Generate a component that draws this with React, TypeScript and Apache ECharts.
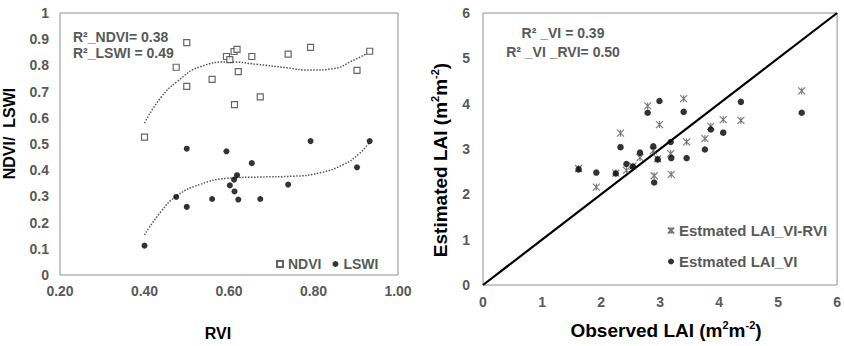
import React, { useEffect, useRef } from "react";
import * as echarts from "echarts";

// ---------- Left panel data (RVI vs NDVI / LSWI) ----------
const rvi = [0.40, 0.475, 0.50, 0.50, 0.56, 0.594, 0.602, 0.612, 0.619, 0.613, 0.622, 0.654, 0.674, 0.740, 0.793, 0.903, 0.933];
const ndvi = [0.526, 0.793, 0.887, 0.720, 0.747, 0.834, 0.822, 0.853, 0.861, 0.650, 0.776, 0.834, 0.680, 0.843, 0.869, 0.781, 0.854];
const lswi = [0.112, 0.298, 0.482, 0.260, 0.290, 0.472, 0.342, 0.364, 0.381, 0.319, 0.288, 0.427, 0.290, 0.345, 0.511, 0.411, 0.511];

// trend curves
const ndviTrendX = [0.40, 0.438, 0.477, 0.532, 0.603, 0.666, 0.737, 0.792, 0.847, 0.894, 0.933];
const ndviTrendY = [0.580, 0.676, 0.738, 0.795, 0.813, 0.804, 0.791, 0.782, 0.788, 0.819, 0.851];
const lswiTrendX = [0.40, 0.438, 0.477, 0.532, 0.595, 0.673, 0.752, 0.815, 0.870, 0.909, 0.933];
const lswiTrendY = [0.153, 0.240, 0.303, 0.346, 0.369, 0.374, 0.377, 0.390, 0.421, 0.464, 0.508];

const leftXTicks = { min: 0.2, max: 1.0, interval: 0.2 };
const leftYTicks = { min: 0, max: 1, interval: 0.1 };

// ---------- Right panel data (Observed vs Estimated LAI) ----------
const observedLAI = [1.62, 1.92, 2.25, 2.33, 2.43, 2.54, 2.66, 2.79, 2.885, 2.90, 2.96, 2.99, 3.18, 3.19, 3.40, 3.45, 3.76, 3.86, 4.07, 4.37, 5.40];
const estLAI_VI = [2.55, 2.48, 2.46, 3.04, 2.67, 2.61, 2.92, 3.80, 3.06, 2.26, 2.77, 4.06, 3.155, 2.80, 3.82, 2.80, 2.99, 3.43, 3.36, 4.04, 3.80];
const estLAI_VIRVI = [2.57, 2.16, 2.47, 3.35, 2.53, 2.62, 2.81, 3.95, 2.96, 2.41, 2.78, 3.54, 2.90, 2.44, 4.11, 3.155, 3.23, 3.50, 3.65, 3.63, 4.28];
const oneToOne = [[0, 0], [6, 6]];

const rightTicks = { min: 0, max: 6, interval: 1 };

const FONT = '"Liberation Sans", Arial, sans-serif';
const GREY = "#595959";

const zip = (a: number[], b: number[]) => a.map((v, i) => [v, b[i]]);

const ASTERISK = "path://M0,0L10,10M10,0L0,10M5,0L5,10";

const tickLabel = (margin: number) => ({
  color: GREY,
  fontSize: 14,
  fontWeight: "bold" as const,
  fontFamily: FONT,
  margin,
});

const supRich = {
  sup: { fontSize: 11, fontWeight: "bold", color: "#000", fontFamily: FONT, verticalAlign: "top", lineHeight: 12 },
};

const option: any = {
  animation: false,
  backgroundColor: "#fff",
  textStyle: { fontFamily: FONT },
  grid: [
    { left: 59, top: 13, width: 339, height: 268, show: true, borderColor: "#8f8f8f", borderWidth: 1 },
    { left: 483, top: 13, width: 355, height: 273, show: true, borderColor: "#8f8f8f", borderWidth: 1 },
  ],
  xAxis: [
    {
      type: "value", gridIndex: 0, ...leftXTicks,
      splitLine: { show: false }, axisLine: { show: false }, axisTick: { show: false },
      axisLabel: { ...tickLabel(9), formatter: (v: number) => v.toFixed(2) },
      name: "RVI", nameLocation: "middle", nameGap: 50,
      nameTextStyle: { fontSize: 16, fontWeight: "bold", color: "#000", fontFamily: FONT, padding: [0, 22, 0, 0] },
    },
    {
      type: "value", gridIndex: 1, ...rightTicks,
      splitLine: { show: false }, axisLine: { show: false }, axisTick: { show: false },
      axisLabel: tickLabel(10),
      name: "Observed LAI (m{sup|2}m{sup|-2})", nameLocation: "middle", nameGap: 34,
      nameTextStyle: { fontSize: 19, fontWeight: "bold", color: "#000", fontFamily: FONT, lineHeight: 22, padding: [0, 0, 0, 12], rich: supRich },
    },
  ],
  yAxis: [
    {
      type: "value", gridIndex: 0, ...leftYTicks,
      splitLine: { show: false }, axisLine: { show: false }, axisTick: { show: false },
      axisLabel: tickLabel(11),
      name: "NDVI/  LSWI", nameLocation: "middle", nameGap: 43,
      nameTextStyle: { fontSize: 16, fontWeight: "bold", color: "#000", fontFamily: FONT, padding: [0, 0, 0, 21] },
    },
    {
      type: "value", gridIndex: 1, ...rightTicks,
      splitLine: { show: false }, axisLine: { show: false }, axisTick: { show: false },
      axisLabel: tickLabel(13),
      name: "Estimated LAI (m{sup|2}m{sup|-2})", nameLocation: "middle", nameGap: 32,
      nameTextStyle: { fontSize: 19, fontWeight: "bold", color: "#000", fontFamily: FONT, lineHeight: 22, padding: [0, 22, 0, 0], rich: supRich },
    },
  ],
  legend: [
    {
      data: ["NDVI", "LSWI"], left: 276, top: 256, orient: "horizontal",
      itemWidth: 6, itemHeight: 6, itemGap: 11, padding: 0, selectedMode: false,
      textStyle: { fontSize: 14, fontWeight: "bold", color: GREY, fontFamily: FONT, lineHeight: 16 },
    },
    {
      data: ["Estmated LAI_VI-RVI", "Estmated LAI_VI"], left: 667, top: 222, orient: "vertical",
      itemWidth: 6, itemHeight: 6, itemGap: 14, padding: 0, selectedMode: false,
      textStyle: { fontSize: 15, fontWeight: "bold", color: GREY, fontFamily: FONT, lineHeight: 17 },
    },
  ],
  graphic: [
    { type: "text", x: 73, y: 37, style: { text: "R²_NDVI= 0.38", fontSize: 14, fontWeight: "bold", fill: GREY, fontFamily: FONT, align: "left", verticalAlign: "middle" } },
    { type: "text", x: 73, y: 53, style: { text: "R²_LSWI = 0.49", fontSize: 14, fontWeight: "bold", fill: GREY, fontFamily: FONT, align: "left", verticalAlign: "middle" } },
    { type: "text", x: 563, y: 33, style: { text: "R² _VI = 0.39", fontSize: 14, fontWeight: "bold", fill: GREY, fontFamily: FONT, align: "center", verticalAlign: "middle" } },
    { type: "text", x: 563, y: 52, style: { text: "R² _VI _RVI= 0.50", fontSize: 14, fontWeight: "bold", fill: GREY, fontFamily: FONT, align: "center", verticalAlign: "middle" } },
  ],
  series: [
    {
      name: "NDVI trend", type: "line", xAxisIndex: 0, yAxisIndex: 0, smooth: true, symbol: "none",
      data: zip(ndviTrendX, ndviTrendY), lineStyle: { color: "#555", width: 1.5, type: [1.5, 1.5] }, z: 1, silent: true,
    },
    {
      name: "LSWI trend", type: "line", xAxisIndex: 0, yAxisIndex: 0, smooth: true, symbol: "none",
      data: zip(lswiTrendX, lswiTrendY), lineStyle: { color: "#555", width: 1.5, type: [1.5, 1.5] }, z: 1, silent: true,
    },
    {
      name: "NDVI", type: "scatter", xAxisIndex: 0, yAxisIndex: 0, symbol: "rect", symbolSize: 6,
      data: zip(rvi, ndvi), itemStyle: { color: "#fff", borderColor: "#404040", borderWidth: 1.2 }, z: 3,
    },
    {
      name: "LSWI", type: "scatter", xAxisIndex: 0, yAxisIndex: 0, symbol: "circle", symbolSize: 6,
      data: zip(rvi, lswi), itemStyle: { color: "#000" }, z: 3,
    },
    {
      name: "1:1", type: "line", xAxisIndex: 1, yAxisIndex: 1, symbol: "none",
      data: oneToOne, lineStyle: { color: "#000", width: 2.2 }, z: 2, silent: true,
    },
    {
      name: "Estmated LAI_VI-RVI", type: "scatter", xAxisIndex: 1, yAxisIndex: 1, symbol: ASTERISK, symbolSize: 7,
      data: zip(observedLAI, estLAI_VIRVI), itemStyle: { color: "transparent", borderColor: "#555", borderWidth: 1.1 }, z: 3,
    },
    {
      name: "Estmated LAI_VI", type: "scatter", xAxisIndex: 1, yAxisIndex: 1, symbol: "circle", symbolSize: 6.5,
      data: zip(observedLAI, estLAI_VI), itemStyle: { color: "#000" }, z: 4,
    },
  ],
};

export default function App() {
  const ref = useRef<HTMLDivElement>(null);
  useEffect(() => {
    if (!ref.current) return;
    const chart = echarts.init(ref.current, null, { renderer: "svg" });
    chart.setOption(option);
    return () => chart.dispose();
  }, []);
  return (
    <div
      ref={ref}
      style={{ position: "absolute", left: 0, top: 0, width: 844, height: 346, background: "#fff" }}
    />
  );
}
